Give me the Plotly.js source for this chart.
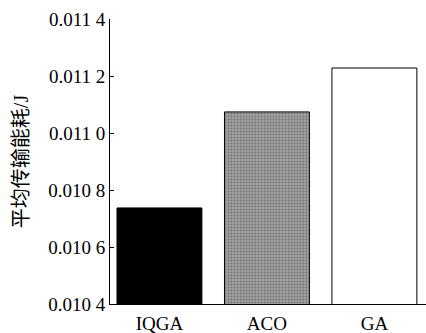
<!DOCTYPE html>
<html>
<head>
<meta charset="utf-8">
<script src="https://cdn.plot.ly/plotly-3.0.1.min.js"></script>
<style>html,body{margin:0;padding:0;background:#fff;}#chart{width:426px;height:333px;}</style>
</head>
<body>
<div id="chart"></div>
<script>
const categories = ["IQGA", "ACO", "GA"];
const energyValues = [0.010737, 0.011074, 0.011228];
const yTickValues = [0.0104, 0.0106, 0.0108, 0.0110, 0.0112, 0.0114];
const yTickLabels = ["0.010 4", "0.010 6", "0.010 8", "0.011 0", "0.011 2", "0.011 4"];

const FONT = "Times New Roman, Liberation Serif, Times, serif";
const TITLE_FONT = "Times New Roman, Liberation Serif, Noto Sans CJK SC, serif";

const trace = {
  type: "bar",
  x: categories,
  y: energyValues,
  width: 0.79,
  marker: {
    color: ["#000000", "#a0a0a0", "#ffffff"],
    line: {color: "#000000", width: 1},
    pattern: {
      shape: ["", ".", ""],
      fillmode: "overlay",
      fgcolor: "#222222",
      size: 3,
      solidity: 0.3
    }
  },
  hoverinfo: "none"
};

const layout = {
  width: 426,
  height: 333,
  margin: {l: 110, r: 0, t: 19, b: 29, pad: 0},
  paper_bgcolor: "#ffffff",
  plot_bgcolor: "#ffffff",
  showlegend: false,
  font: {family: FONT, size: 19, color: "#000"},
  xaxis: {
    type: "category",
    range: [-0.46, 2.48],
    showline: true,
    linecolor: "#000",
    linewidth: 1,
    ticks: "",
    showgrid: false,
    zeroline: false,
    tickfont: {family: FONT, size: 19, color: "#000"},
    ticklabelstandoff: 2
  },
  yaxis: {
    range: [0.0104, 0.0114],
    tickvals: yTickValues,
    ticktext: yTickLabels,
    showline: true,
    linecolor: "#000",
    linewidth: 1,
    ticks: "inside",
    ticklen: 4,
    tickcolor: "#000",
    showgrid: false,
    zeroline: false,
    automargin: false,
    tickfont: {family: FONT, size: 19, color: "#000"},
    title: {
      text: "平均传输能耗/J",
      font: {family: TITLE_FONT, size: 20, color: "#000"},
      standoff: 14
    }
  }
};

Plotly.newPlot("chart", [trace], layout, {staticPlot: true, displayModeBar: false});
</script>
</body>
</html>
